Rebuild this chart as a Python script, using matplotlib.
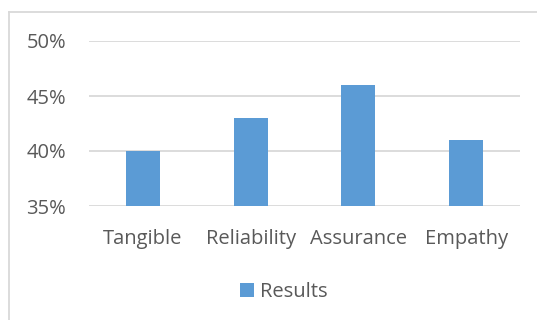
import matplotlib
matplotlib.use("Agg")
import matplotlib.pyplot as plt
from matplotlib.lines import Line2D
from matplotlib.patches import Patch
from matplotlib.ticker import FuncFormatter

categories = ["Tangible", "Reliability", "Assurance", "Empathy"]
results = [40, 43, 46, 41]
y_ticks = [35, 40, 45, 50]

BAR_COLOR = "#5B9BD5"
TEXT_COLOR = "#595959"
GRID_COLOR = "#D9D9D9"
FONT_SIZE = 14.5

plt.rcParams["font.family"] = ["Open Sans", "DejaVu Sans"]

fig = plt.figure(figsize=(5.37, 3.20), dpi=100)
ax = fig.add_axes([89 / 537, 1 - 206 / 320, 431 / 537, 165 / 320])

x = range(len(categories))
ax.bar(x, results, width=0.316, color=BAR_COLOR, zorder=3)

ax.set_xlim(-0.5, len(categories) - 0.5)
ax.set_ylim(35, 50)
ax.set_yticks(y_ticks)
ax.yaxis.set_major_formatter(FuncFormatter(lambda v, _: f"{v:.0f}%"))
ax.set_xticks(list(x))
ax.set_xticklabels(categories)

ax.grid(axis="y", color=GRID_COLOR, linewidth=1.3, zorder=0)
for side in ["top", "right", "left", "bottom"]:
    ax.spines[side].set_visible(False)
ax.tick_params(axis="both", length=0, labelsize=FONT_SIZE, colors=TEXT_COLOR)
ax.tick_params(axis="y", pad=16.5)
ax.tick_params(axis="x", pad=16.5)

# chart-area frame: left and top edges only
fig.add_artist(Line2D([8.5 / 537, 8.5 / 537], [0, 1 - 12 / 320],
                      transform=fig.transFigure, color=GRID_COLOR, linewidth=1.3))
fig.add_artist(Line2D([8.5 / 537, 1], [1 - 12 / 320, 1 - 12 / 320],
                      transform=fig.transFigure, color=GRID_COLOR, linewidth=1.3))

handle = Patch(facecolor=BAR_COLOR, edgecolor="none")
fig.legend([handle], ["Results"], loc="center", bbox_to_anchor=(284 / 537, 1 - 292 / 320),
           frameon=False, fontsize=FONT_SIZE, labelcolor=TEXT_COLOR,
           handlelength=0.7, handleheight=0.7, handletextpad=0.3)

fig.savefig("out.png", dpi=100)
